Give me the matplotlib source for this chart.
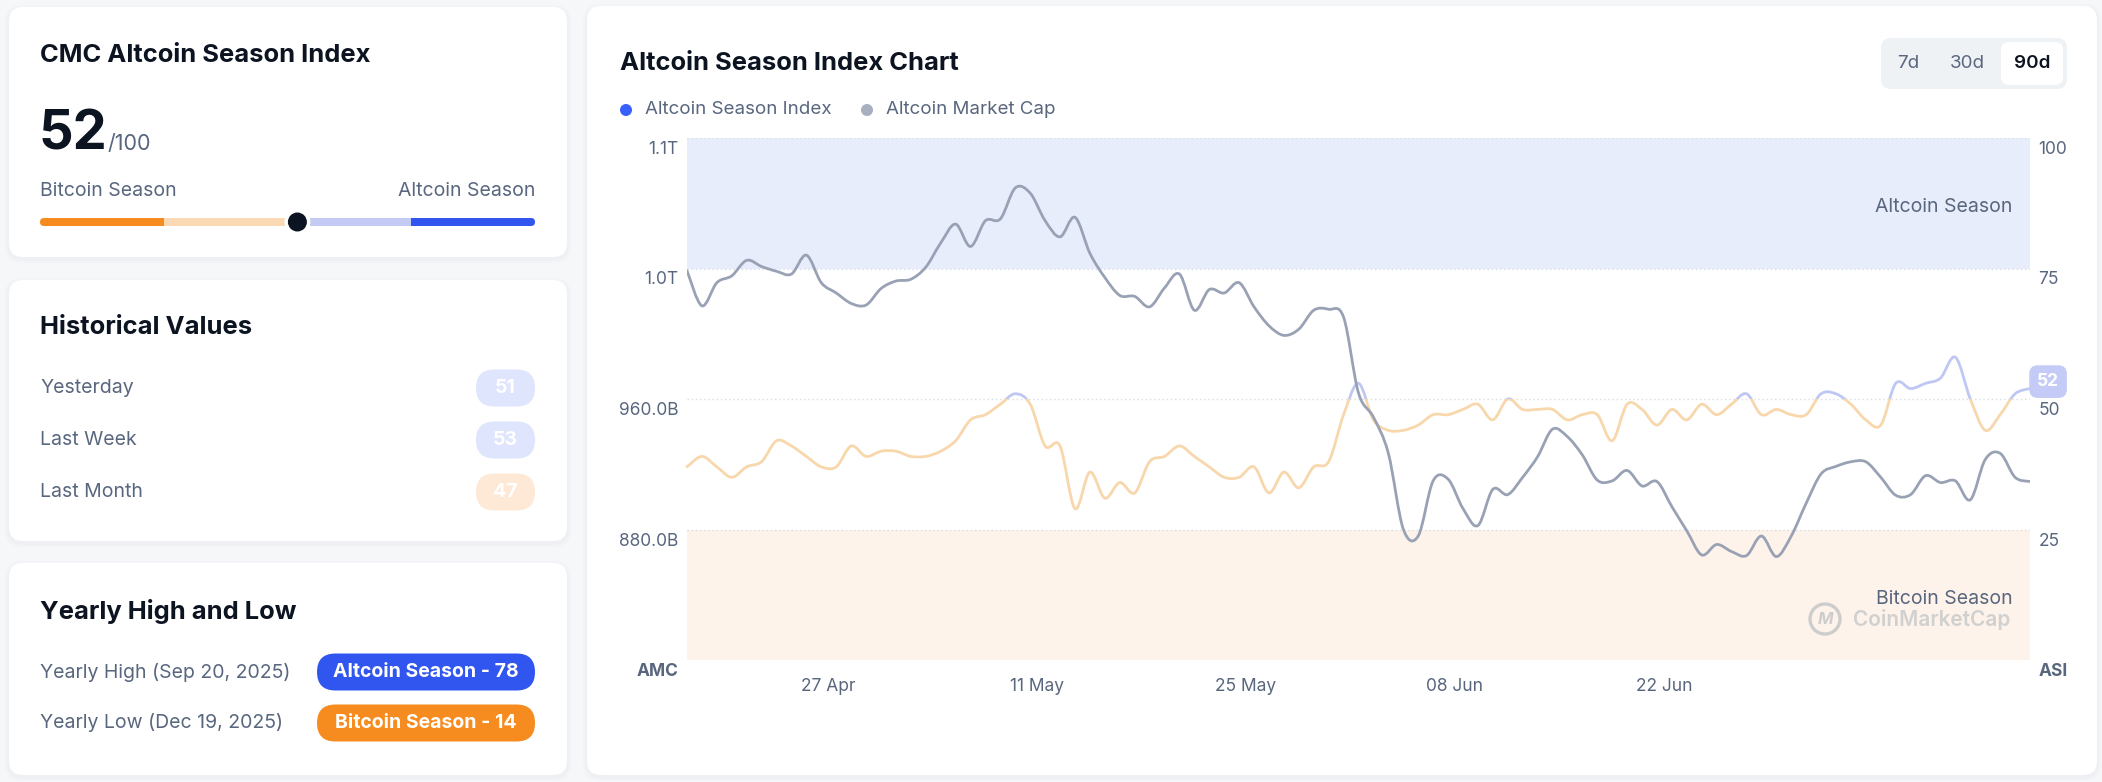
#!/usr/bin/env python3
# -*- coding: utf-8 -*-
"""CMC Altcoin Season Index dashboard: three summary cards + 90d chart."""
import matplotlib

matplotlib.use("Agg")
import matplotlib.pyplot as plt  # noqa: E402
import matplotlib.dates as mdates  # noqa: E402
from matplotlib.patches import FancyBboxPatch, Circle, Rectangle, PathPatch  # noqa: E402
from matplotlib.path import Path  # noqa: E402
from matplotlib.transforms import blended_transform_factory, ScaledTranslation  # noqa: E402
import numpy as np  # noqa: E402
import pandas as pd  # noqa: E402

plt.rcParams["font.family"] = ["Inter", "DejaVu Sans"]

W, H = 2102, 782

# ---- data -------------------------------------------------------------
dates = pd.date_range("2025-04-17 13:00", periods=91, freq="D")
season_index = [37, 39, 37, 35, 37, 38, 42, 41, 39, 37, 37, 41, 39, 40, 40,
                39, 39, 40, 42, 46, 47, 49, 51, 49, 41, 41, 29, 36, 31, 34,
                32, 38, 39, 41, 39, 37, 35, 35, 37, 32, 36, 33, 37, 38, 47,
                53, 46, 44, 44, 45, 47, 47, 48, 49, 46, 50, 48, 48, 48, 46,
                47, 47, 42, 49, 48, 45, 48, 46, 49, 47, 49, 51, 47, 48, 47,
                47, 51, 51, 49, 46, 45, 53, 52, 53, 54, 58, 50, 44, 47, 51,
                52]
market_cap_b = [1038.7, 1017.1, 1031.3, 1035.5, 1045.0, 1041.2, 1038.3,
                1036.6, 1048.2, 1031.3, 1025.0, 1018.6, 1017.6, 1027.7,
                1032.3, 1033.4, 1040.8, 1055.6, 1067.2, 1053.5, 1069.3,
                1070.4, 1089.4, 1086.2, 1069.3, 1059.4, 1071.4, 1049.3,
                1034.5, 1023.5, 1022.9, 1016.5, 1028.1, 1036.6, 1014.4,
                1027.1, 1025.0, 1031.3, 1016.5, 1004.9, 999.0, 1002.8,
                1014.4, 1015.0, 1010.2, 963.7, 948.9, 926.7, 880.3, 876.0,
                909.8, 910.9, 892.9, 882.4, 904.6, 901.4, 912.0, 924.6,
                941.5, 936.9, 925.7, 910.3, 909.8, 916.2, 906.7, 909.4,
                894.0, 879.2, 864.4, 870.8, 866.5, 864.0, 876.0, 863.4,
                876.0, 896.1, 914.1, 918.7, 921.5, 921.5, 912.0, 901.0,
                901.4, 913.0, 908.8, 909.8, 898.2, 922.9, 926.7, 912.0,
                909.4]

index_now = 52
history_labels = ["Yesterday", "Last Week", "Last Month"]
history_values = [51, 53, 47]
yearly_labels = ["Yearly High (Sep 20, 2025)", "Yearly Low (Dec 19, 2025)"]
yearly_badges = ["Altcoin Season - 78", "Bitcoin Season - 14"]
x_ticks = ["2025-04-27", "2025-05-11", "2025-05-25", "2025-06-08", "2025-06-22"]
asi_ticks = [0, 25, 50, 75, 100]
asi_tick_labels = ["ASI", "25", "50", "75", "100"]
mc_ticks = [800, 880, 960, 1040, 1120]
mc_tick_labels = ["AMC", "880.0B", "960.0B", "1.0T", "1.1T"]
ranges = ["7d", "30d", "90d"]

# ---- colours ----------------------------------------------------------
PAGE = "#f6f7f9"
DARK = "#0d1421"
GREY = "#58667e"
BLUE = "#3156f0"
ORANGE = "#f68c1f"
LBLUE = "#c3cbf5"
LORANGE = "#fbd9b5"
BAND_BLUE = "#e8edfc"
BAND_ORANGE = "#fef3ea"
LINE_BLUE = "#bfc7f4"
LINE_ORANGE = "#f7d7ab"
LINE_GREY = "#99a2b5"
HEAD = 18.4

fig = plt.figure(figsize=(W / 100, H / 100), dpi=100, facecolor=PAGE)
ui = fig.add_axes([0, 0, 1, 1], zorder=0)
ui.set_xlim(0, W)
ui.set_ylim(H, 0)
ui.axis("off")


def rbox(x0, y0, x1, y1, fc, r, **kw):
    p = FancyBboxPatch((x0, y0), x1 - x0, y1 - y0,
                       boxstyle=f"round,pad=0,rounding_size={r}",
                       fc=fc, ec="none", **kw)
    ui.add_patch(p)
    return p


def card(x0, y0, x1, y1):
    for d, a in [(4, 0.025), (2, 0.04)]:
        rbox(x0 - d, y0 - d + 2, x1 + d, y1 + d + 2, "#8a94a6", 16, alpha=a)
    rbox(x0, y0, x1, y1, "white", 14)


def pill(x0, x1, yc, fc, text, h=37):
    rbox(x0, yc - h / 2, x1, yc + h / 2, fc, h / 2)
    ui.text((x0 + x1) / 2, yc, text, ha="center", va="center",
            fontsize=14, weight="bold", color="white")


def smooth_line(ax_, x, y, color):
    # draw the series as a Catmull-Rom style bezier through the points
    x = mdates.date2num(x)
    y = np.asarray(y, float)
    n = len(x)
    verts, codes = [(x[0], y[0])], [Path.MOVETO]
    for i in range(n - 1):
        p0 = max(i - 1, 0)
        p3 = min(i + 2, n - 1)
        c1 = (x[i] + (x[i + 1] - x[p0]) / 6, y[i] + (y[i + 1] - y[p0]) / 6)
        c2 = (x[i + 1] - (x[p3] - x[i]) / 6, y[i + 1] - (y[p3] - y[i]) / 6)
        verts += [c1, c2, (x[i + 1], y[i + 1])]
        codes += [Path.CURVE4] * 3
    patch = PathPatch(Path(verts, codes), fill=False, ec=color, lw=2.0,
                      zorder=3, joinstyle="round", capstyle="round")
    ax_.add_patch(patch)
    return patch


# ---- card 1: current index -------------------------------------------
card(9, 7, 567, 257)
ui.text(40, 55, "CMC Altcoin Season Index", fontsize=HEAD, weight="bold",
        color=DARK, va="center")
ui.text(38, 150, str(index_now), fontsize=39, weight="bold", color=DARK,
        va="baseline")
ui.text(108, 150, "/100", fontsize=15.5, color=GREY, va="baseline")
ui.text(40, 191, "Bitcoin Season", fontsize=14, color=GREY, va="center")
ui.text(535, 191, "Altcoin Season", fontsize=14, color=GREY, va="center",
        ha="right")
bx0, bx1, by = 40, 535, 222


def bar_x(v):
    return bx0 + (bx1 - bx0) * v / 100


knob = bar_x(index_now)
rbox(bx0, by - 4, bar_x(30), by + 4, ORANGE, 4)
ui.add_patch(Rectangle((bar_x(25), by - 4), knob - bar_x(25), 8,
                       fc=LORANGE, ec="none"))
rbox(bar_x(70), by - 4, bx1, by + 4, BLUE, 4)
ui.add_patch(Rectangle((knob, by - 4), bar_x(75) - knob, 8,
                       fc=LBLUE, ec="none"))
ui.add_patch(Circle((knob, by), 13, fc="white", ec="none"))
ui.add_patch(Circle((knob, by), 9.5, fc=DARK, ec="none"))

# ---- card 2: historical values ---------------------------------------
card(9, 280, 567, 541)
ui.text(40, 327, "Historical Values", fontsize=HEAD, weight="bold",
        color=DARK, va="center")
for k, (lab, val) in enumerate(zip(history_labels, history_values)):
    yc = 388 + 52 * k
    ui.text(40, yc, lab, fontsize=14, color=GREY, va="center")
    pill(476, 535, yc, "#dfe5fc" if val >= 50 else "#fde9d6", str(val))

# ---- card 3: yearly high / low ---------------------------------------
card(9, 563, 567, 775)
ui.text(40, 611, "Yearly High and Low", fontsize=HEAD, weight="bold",
        color=DARK, va="center")
for k, (lab, badge) in enumerate(zip(yearly_labels, yearly_badges)):
    yc = 672 + 51 * k
    ui.text(40, yc, lab, fontsize=14, color=GREY, va="center")
    pill(317, 535, yc, BLUE if k == 0 else ORANGE, badge)

# ---- chart card --------------------------------------------------------
card(587, 6, 2097, 775)
ui.text(620, 64, "Altcoin Season Index Chart", fontsize=HEAD, weight="bold",
        color=DARK, va="center")
ui.add_patch(Circle((626, 110), 6, fc="#3861fb", ec="none"))
ui.text(645, 110, "Altcoin Season Index", fontsize=13.5, color=GREY,
        va="center")
ui.add_patch(Circle((867, 110), 6, fc="#a7afc1", ec="none"))
ui.text(886, 110, "Altcoin Market Cap", fontsize=13.5, color=GREY,
        va="center")
rbox(1881, 38, 2067, 89, "#eff2f5", 10)
rbox(2001, 42, 2063, 85, "white", 8)
for lab, xc in zip(ranges, [1908, 1967, 2032]):
    ui.text(xc, 64, lab, fontsize=13.5, ha="center", va="center",
            color=DARK if lab == "90d" else GREY,
            weight="semibold" if lab == "90d" else "normal")

ax = fig.add_axes([687 / W, (H - 660) / H, 1343 / W, 522 / H], zorder=2)
ax.patch.set_alpha(0)
ax.axhspan(75, 100, color=BAND_BLUE, lw=0, zorder=0.2)
ax.axhspan(0, 25, color=BAND_ORANGE, lw=0, zorder=0.2)
ax.set_yticks(asi_ticks, asi_tick_labels)
ax.grid(axis="y", linestyle=(0, (1, 2)), color="#d9dde5", lw=1)
ax.grid(axis="x", visible=False)

band_tr = blended_transform_factory(ax.transAxes, ax.transData)
for lo, hi, col in [(50, 110, LINE_BLUE), (-10, 50, LINE_ORANGE)]:
    ln = smooth_line(ax, dates, season_index, col)
    ln.set_clip_path(Rectangle((-0.05, lo), 1.1, hi - lo, transform=band_tr))

ax.text(0.987, 86.8, "Altcoin Season", transform=band_tr, ha="right",
        va="center", fontsize=14, color=GREY)
ax.text(0.987, 11.7, "Bitcoin Season", transform=band_tr, ha="right",
        va="center", fontsize=14, color=GREY)

ax.annotate(str(season_index[-1]), xy=(dates[-1], season_index[-1]),
            xytext=(13, 5), textcoords="offset points", ha="center",
            va="center", fontsize=12.5, weight="bold", color="white",
            annotation_clip=False, zorder=6,
            bbox=dict(boxstyle="round,pad=0.45,rounding_size=0.5",
                      fc="#c3cbf6", ec="none"))

ax.set_xlim(dates[0], dates[-1])
ax.set_ylim(0, 100)
ax.set_xticks(pd.to_datetime(x_ticks))
ax.xaxis.set_major_formatter(mdates.DateFormatter("%d %b"))
ax.yaxis.tick_right()
ax.tick_params(axis="both", length=0, labelsize=12.5, labelcolor=GREY)
ax.tick_params(axis="x", pad=13)
ax.tick_params(axis="y", pad=6)

ax_mc = ax.twinx()
smooth_line(ax_mc, dates, market_cap_b, LINE_GREY)
ax_mc.set_xlim(dates[0], dates[-1])
ax_mc.set_ylim(mc_ticks[0], mc_ticks[-1])
ax_mc.set_yticks(mc_ticks, mc_tick_labels)
ax_mc.yaxis.tick_left()
ax_mc.tick_params(axis="y", length=0, pad=6, labelsize=12.5,
                  labelcolor=GREY)
ax.yaxis.tick_right()

for a in (ax, ax_mc):
    for s in a.spines.values():
        s.set_visible(False)
down = ScaledTranslation(0, -3 / 100, fig.dpi_scale_trans)
for lbls in (ax.get_yticklabels(), ax_mc.get_yticklabels()):
    for lbl in lbls:
        lbl.set_va("top")
        lbl.set_transform(lbl.get_transform() + down)
    lbls[0].set_fontweight("bold")

# CoinMarketCap watermark over the lower band
top = fig.add_axes([0, 0, 1, 1], zorder=4)
top.set_xlim(0, W)
top.set_ylim(H, 0)
top.axis("off")
top.add_patch(Circle((1825, 619), 15, fc="none", ec="#cdcdcd", lw=2.4))
top.text(1825, 620, "M", fontsize=12, style="italic", weight="bold",
         color="#cdcdcd", ha="center", va="center")
top.text(1853, 619, "CoinMarketCap", fontsize=15, weight="semibold",
         color="#d0d0d0", ha="left", va="center")

fig.savefig("out.png", dpi=100, facecolor=PAGE)
